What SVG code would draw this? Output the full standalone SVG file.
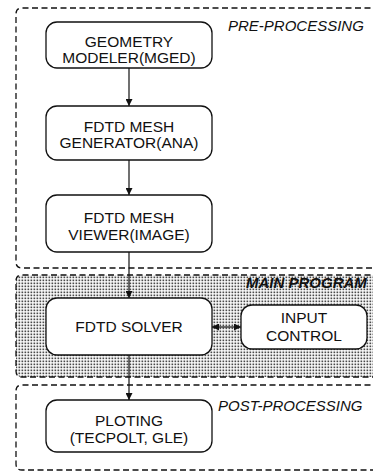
<svg xmlns="http://www.w3.org/2000/svg" width="373" height="472" viewBox="0 0 373 472">
  <style>
    .frame { fill: none; stroke: #111; stroke-width: 1.3; stroke-dasharray: 6 3.5; }
    .node rect { fill: #fff; stroke: #111; stroke-width: 1.3; }
    .node text { font-family: "Liberation Sans", Arial, sans-serif; font-size: 15.5px; fill: #111; text-anchor: middle; }
    .label { font-family: "Liberation Sans", Arial, sans-serif; font-size: 15px; font-style: italic; fill: #111; }
    .edges line { stroke: #111; stroke-width: 1.2; }
  </style>
  <defs>
    <pattern id="dots" width="3" height="3" patternUnits="userSpaceOnUse">
      <rect width="3" height="3" fill="#fff"/>
      <rect x="0.5" y="0.5" width="1.7" height="1.7" fill="#4a4a4a"/>
    </pattern>
    <marker id="head" viewBox="0 0 10 10" refX="10" refY="5" markerWidth="7" markerHeight="7" orient="auto-start-reverse" markerUnits="userSpaceOnUse">
      <path d="M0,0 L10,5 L0,10 z" fill="#111"/>
    </marker>
  </defs>

  <!-- stage frames (open on the right edge) -->
  <g id="pre-processing">
    <path class="frame" d="M380,8 H22 Q16,8 16,14 V262 Q16,268 22,268 H380"/>
    <text class="label" x="228" y="31">PRE-PROCESSING</text>
  </g>
  <g id="main-program">
    <path d="M380,275 H22 Q16,275 16,281 V371 Q16,377 22,377 H380 Z" fill="url(#dots)" stroke="none"/>
    <path class="frame" d="M380,275 H22 Q16,275 16,281 V371 Q16,377 22,377 H380"/>
    <text class="label" x="246" y="288" font-weight="bold" font-size="14">MAIN PROGRAM</text>
  </g>
  <g id="post-processing">
    <path class="frame" d="M380,385 H22 Q16,385 16,391 V464 Q16,470 22,470 H380"/>
    <text class="label" x="218" y="411">POST-PROCESSING</text>
  </g>

  <!-- connectors -->
  <g class="edges" id="connectors">
    <line x1="129" y1="68" x2="129" y2="106" marker-end="url(#head)"/>
    <line x1="129" y1="160" x2="129" y2="195" marker-end="url(#head)"/>
    <line x1="129" y1="252" x2="129" y2="298" marker-end="url(#head)"/>
    <line x1="129" y1="355" x2="129" y2="400" marker-end="url(#head)"/>
    <line x1="212" y1="327" x2="241" y2="327" marker-start="url(#head)" marker-end="url(#head)"/>
  </g>

  <!-- process nodes -->
  <g class="node" id="geometry-modeler">
    <rect x="46" y="22" width="166" height="46" rx="11"/>
    <text x="129" y="47">GEOMETRY</text>
    <text x="129" y="63">MODELER(MGED)</text>
  </g>
  <g class="node" id="mesh-generator">
    <rect x="46" y="106" width="166" height="54" rx="11"/>
    <text x="129" y="132">FDTD MESH</text>
    <text x="129" y="148">GENERATOR(ANA)</text>
  </g>
  <g class="node" id="mesh-viewer">
    <rect x="46" y="195" width="166" height="57" rx="11"/>
    <text x="129" y="223">FDTD MESH</text>
    <text x="129" y="240">VIEWER(IMAGE)</text>
  </g>
  <g class="node" id="fdtd-solver">
    <rect x="46" y="298" width="166" height="57" rx="11"/>
    <text x="129" y="332">FDTD SOLVER</text>
  </g>
  <g class="node" id="input-control">
    <rect x="241" y="305" width="126" height="44" rx="11"/>
    <text x="304" y="323">INPUT</text>
    <text x="304" y="341">CONTROL</text>
  </g>
  <g class="node" id="ploting">
    <rect x="46" y="400" width="166" height="52" rx="11"/>
    <text x="129" y="426">PLOTING</text>
    <text x="129" y="443">(TECPOLT, GLE)</text>
  </g>
</svg>
